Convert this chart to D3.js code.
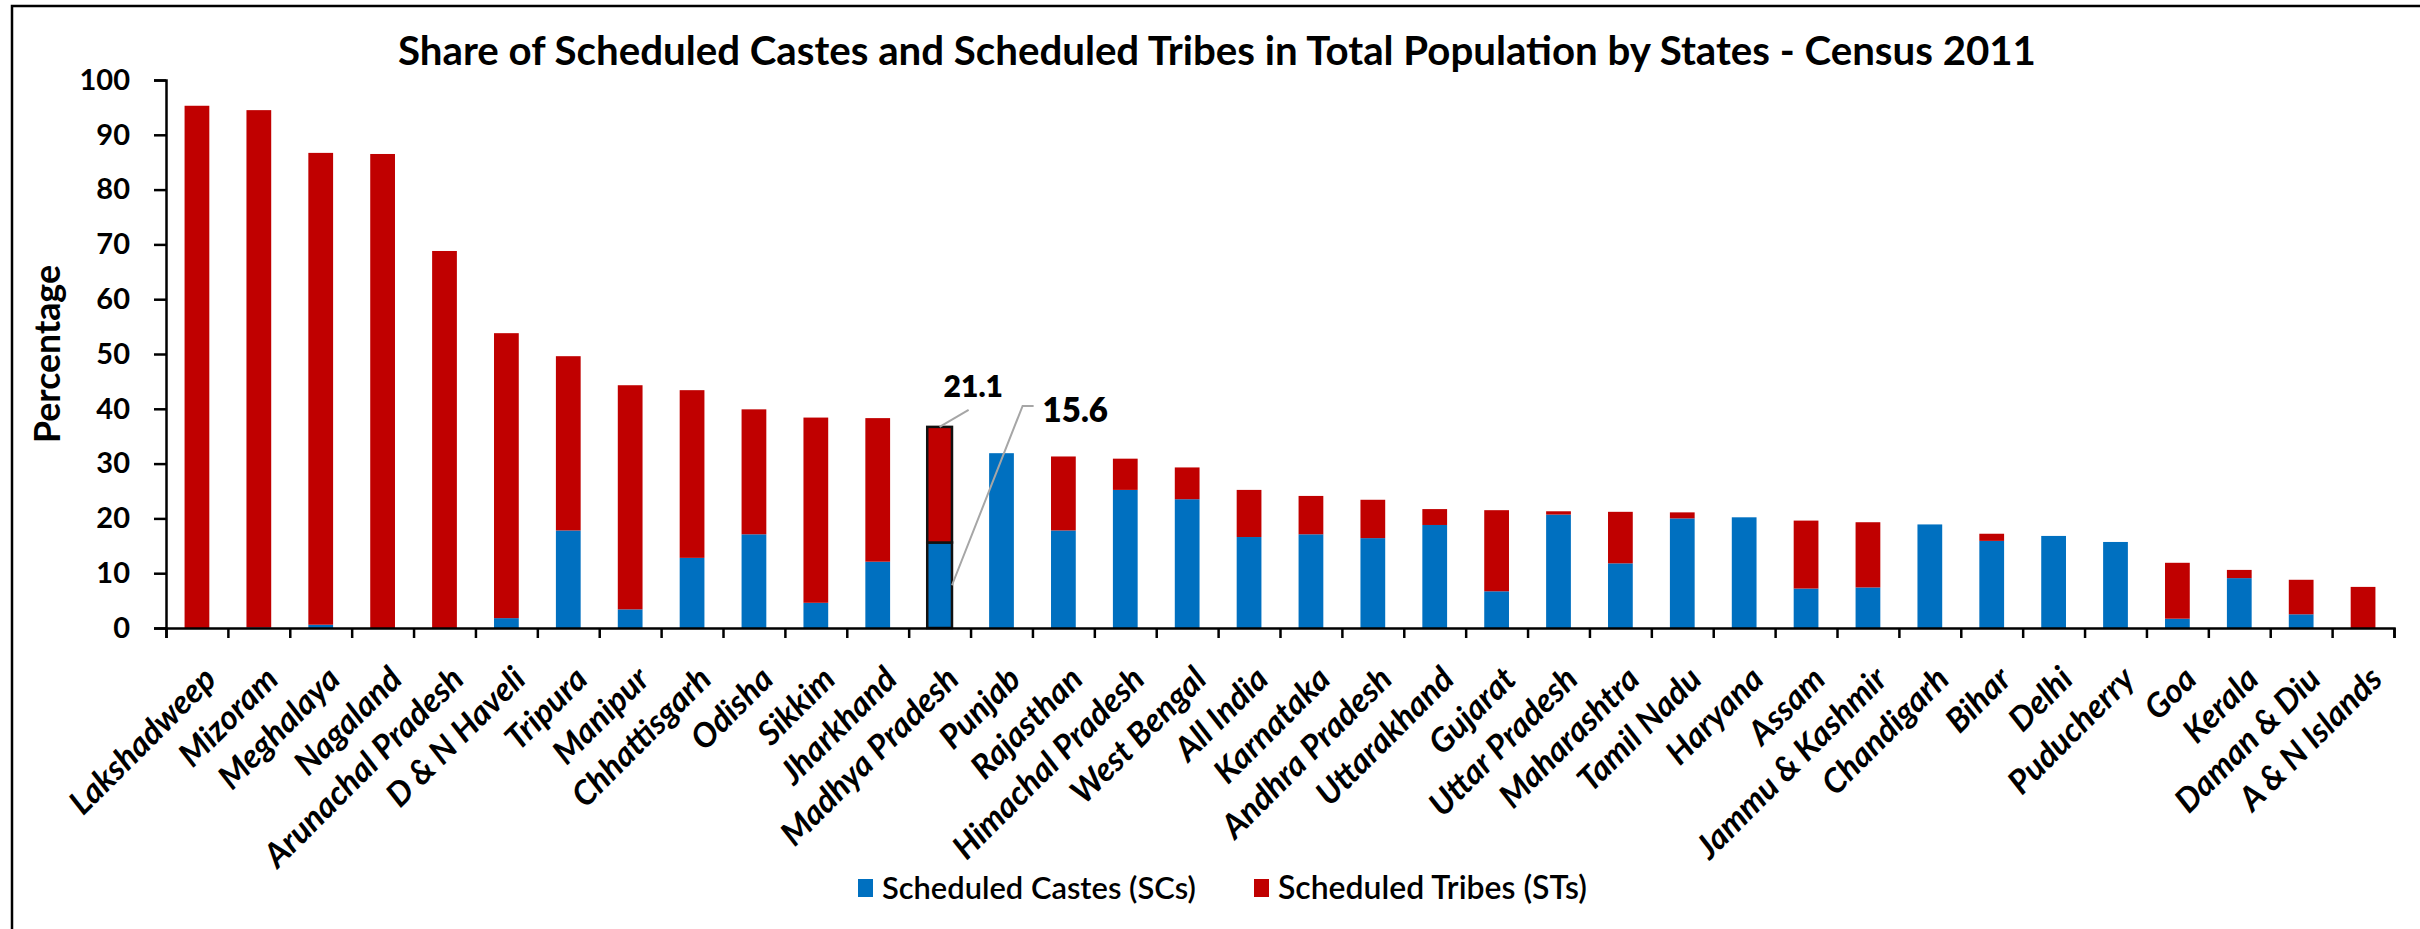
<!DOCTYPE html>
<html>
<head>
<meta charset="utf-8">
<script src="https://cdn.jsdelivr.net/npm/d3@7"></script>
<style>
  html, body { margin: 0; padding: 0; background: #fff; }
  svg { display: block; font-family: Lato, 'Open Sans', sans-serif; }
</style>
</head>
<body>
<svg id="chart" width="2420" height="929"></svg>
<script>

const states = [
    'Lakshadweep', 'Mizoram', 'Meghalaya', 'Nagaland', 'Arunachal Pradesh', 'D & N Haveli',
    'Tripura', 'Manipur', 'Chhattisgarh', 'Odisha', 'Sikkim', 'Jharkhand', 'Madhya Pradesh',
    'Punjab', 'Rajasthan', 'Himachal Pradesh', 'West Bengal', 'All India', 'Karnataka',
    'Andhra Pradesh', 'Uttarakhand', 'Gujarat', 'Uttar Pradesh', 'Maharashtra', 'Tamil Nadu',
    'Haryana', 'Assam', 'Jammu & Kashmir', 'Chandigarh', 'Bihar', 'Delhi', 'Puducherry',
    'Goa', 'Kerala', 'Daman & Diu', 'A & N Islands'
]

const scValues = [
    0, 0.1, 0.6, 0, 0, 1.8, 17.8, 3.4, 12.8, 17.1, 4.6, 12.1, 15.6,
    31.9, 17.8, 25.2, 23.5, 16.6, 17.1, 16.4, 18.8, 6.7, 20.7, 11.8, 20.0,
    20.2, 7.2, 7.4, 18.9, 15.9, 16.8, 15.7, 1.7, 9.1, 2.5, 0
]

const stValues = [
    95.3, 94.4, 86.1, 86.5, 68.8, 52.0, 31.8, 40.9, 30.6, 22.8, 33.8, 26.2, 21.1,
    0, 13.5, 5.7, 5.8, 8.6, 7.0, 7.0, 2.9, 14.8, 0.6, 9.4, 1.1,
    0, 12.4, 11.9, 0, 1.3, 0, 0, 10.2, 1.5, 6.3, 7.5
]

const yTicks = [0, 10, 20, 30, 40, 50, 60, 70, 80, 90, 100]

const seriesNames = ['Scheduled Castes (SCs)', 'Scheduled Tribes (STs)']
const seriesColors = ['#0070C0', '#C00000']

const title = 'Share of Scheduled Castes and Scheduled Tribes in Total Population by States - Census 2011'
const highlighted = 'Madhya Pradesh'

// scale font size so the text fills a given width
function fit (sel, target) {
    const w = sel.node().getComputedTextLength()
    const fs = parseFloat(sel.attr('font-size'))
    sel.attr('font-size', fs * target / w)
    return fs * target / w
}

const svg = d3.select('#chart')
const plotLeft = 166, plotRight = 2394, plotTop = 80, plotBottom = 628

const rows = states.map((s, i) => ({ state: s, sc: scValues[i], st: stValues[i] }))
const stacked = d3.stack().keys(['sc', 'st'])(rows)

const x = d3.scaleBand().domain(states).range([ plotLeft, plotRight ]).paddingInner(0.6).paddingOuter(0.3)
const xi = d3.scaleLinear().domain([ 0, states.length ]).range([ plotLeft, plotRight ])
const y = d3.scaleLinear().domain([ 0, 100 ]).range([ plotBottom, plotTop ])

// outer chart frame
svg.append('rect')
    .attr('x', 12).attr('y', 6).attr('width', 2430).attr('height', 960)
    .attr('fill', 'none').attr('stroke', '#000').attr('stroke-width', 2.5)

// title
const t = svg.append('text')
    .attr('x', 1217).attr('y', 65)
    .attr('text-anchor', 'middle')
    .attr('font-size', 40).attr('font-weight', 700)
    .text(title)
fit(t, 1638)

// bars
const layers = svg.append('g').selectAll('g').data(stacked).join('g')
    .attr('fill', (d, i) => seriesColors[i])

layers.selectAll('rect').data(d => d).join('rect')
    .attr('x', d => x(d.data.state))
    .attr('width', x.bandwidth())
    .attr('y', d => y(d[1]))
    .attr('height', d => y(d[0]) - y(d[1]))
    .attr('stroke', d => d.data.state === highlighted ? '#111' : 'none')
    .attr('stroke-width', 2.5)

// y axis
const yaxis = d3.axisLeft(y).tickValues(yTicks).tickSize(12).tickPadding(24)
const yg = svg.append('g').attr('transform', `translate(${plotLeft},0)`).call(yaxis)
yg.selectAll('text').attr('font-size', 29).attr('font-weight', 700).attr('fill', '#000')
    .attr('font-family', 'Lato')
yg.selectAll('line').attr('stroke', '#000').attr('stroke-width', 2.5)
yg.select('.domain').attr('stroke', '#000').attr('stroke-width', 2.5)

// x axis: tick marks between the categories
const xaxis = d3.axisBottom(xi).tickValues(d3.range(states.length + 1)).tickSize(10).tickFormat('')
const xg = svg.append('g').attr('transform', `translate(0,${plotBottom})`).call(xaxis)
xg.selectAll('line').attr('stroke', '#000').attr('stroke-width', 2.5)
xg.select('.domain').attr('stroke', '#000').attr('stroke-width', 2.5)

// category labels
const lg = svg.append('g').attr('transform', `translate(0,${plotBottom})`)
    .call(d3.axisBottom(x).tickSize(0).tickPadding(0))
lg.select('.domain').remove()
const labels = lg.selectAll('text')
    .attr('font-size', 30).attr('font-weight', 700).attr('font-style', 'italic')
    .attr('font-family', 'Lato').attr('fill', '#000')
    .attr('text-anchor', 'end')
    .attr('dy', '0.35em')
    .attr('transform', 'translate(13,45) rotate(-45)')
    .attr('y', 0)
const ref = labels.filter(d => d === 'Arunachal Pradesh')
const fs = fit(ref, 266)
labels.attr('font-size', fs)

// y axis title
const yt = svg.append('text')
    .attr('transform', `translate(60,${(plotTop + plotBottom) / 2}) rotate(-90)`)
    .attr('text-anchor', 'middle')
    .attr('font-size', 32).attr('font-weight', 700)
    .text('Percentage')
fit(yt, 178)

// data labels for the highlighted state
const mp = states.indexOf(highlighted)
const cx = x(highlighted) + x.bandwidth() / 2
const topY = y(scValues[mp] + stValues[mp])
const leaderColor = '#A6A6A6'

svg.append('line')
    .attr('x1', cx).attr('y1', topY)
    .attr('x2', cx + 29).attr('y2', topY - 17)
    .attr('stroke', leaderColor).attr('stroke-width', 2)
svg.append('text')
    .attr('x', cx + 4).attr('y', topY - 30)
    .attr('font-size', 30).attr('font-weight', 800)
    .text(stValues[mp].toFixed(1))

svg.append('polyline')
    .attr('points', [
        [ x(highlighted) + x.bandwidth(), y(scValues[mp] / 2) ],
        [ cx + 83, topY - 21 ],
        [ cx + 94, topY - 21 ]
    ].map(p => p.join(',')).join(' '))
    .attr('fill', 'none').attr('stroke', leaderColor).attr('stroke-width', 2)
svg.append('text')
    .attr('x', cx + 103).attr('y', topY - 5)
    .attr('font-size', 33).attr('font-weight', 800)
    .text(scValues[mp].toFixed(1))

// legend
const legend = svg.append('g')
const legendX = [ 858, 1254 ]
seriesNames.forEach((name, i) => {
    legend.append('rect')
        .attr('x', legendX[i]).attr('y', 879)
        .attr('width', 15).attr('height', 18)
        .attr('fill', seriesColors[i])
    const lt = legend.append('text')
        .attr('x', legendX[i] + 24).attr('y', 899)
        .attr('font-size', 30).attr('font-weight', 600)
        .text(name)
    fit(lt, i === 0 ? 314 : 309)
})

</script>
</body>
</html>
